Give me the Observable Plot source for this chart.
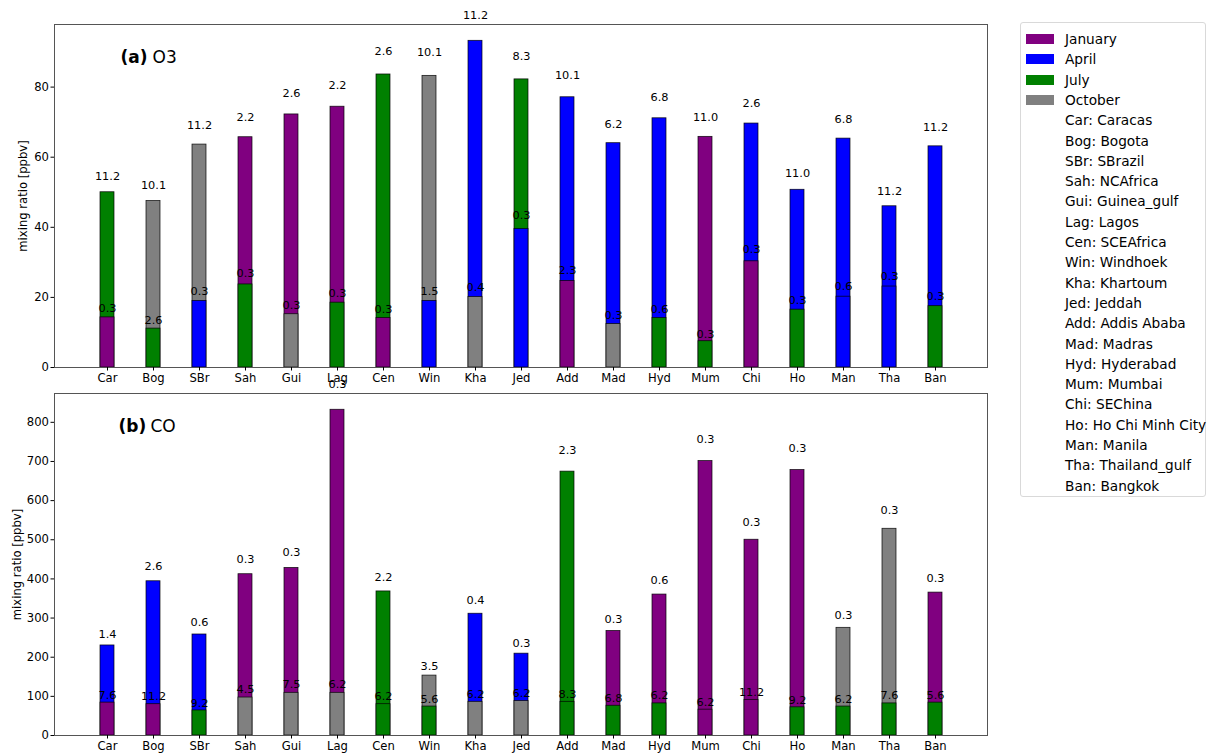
<!DOCTYPE html>
<html>
<head>
<meta charset="utf-8">
<script src="https://cdn.jsdelivr.net/npm/d3@7"></script>
<script src="https://cdn.jsdelivr.net/npm/@observablehq/plot@0.6"></script>
<style>
  html, body { margin: 0; padding: 0; background: #fff; }
  #wrap { position: relative; width: 1208px; height: 753px; font-family: "DejaVu Sans", sans-serif; }
  #wrap svg { position: absolute; left: 0; overflow: visible; }
  #legend { position: absolute; left: 1020px; top: 22px; width: 186px; height: 475px; border: 1px solid #d9d9d9; border-radius: 3px; box-sizing: border-box; font-size: 13.7px; color: #000; }
  .row { position: absolute; left: 0; height: 20px; display: flex; align-items: center; white-space: nowrap; }
  .sw { position: absolute; left: 5px; width: 28px; height: 10px; }
  .lab { position: absolute; left: 44px; }
</style>
</head>
<body>
<div id="wrap"></div>
<script>
const sites = ["Car","Bog","SBr","Sah","Gui","Lag","Cen","Win","Kha","Jed","Add","Mad","Hyd","Mum","Chi","Ho","Man","Tha","Ban"];
const siteNames = ["Caracas","Bogota","SBrazil","NCAfrica","Guinea_gulf","Lagos","SCEAfrica","Windhoek","Khartoum","Jeddah","Addis Ababa","Madras","Hyderabad","Mumbai","SEChina","Ho Chi Minh City","Manila","Thailand_gulf","Bangkok"];
const months = ["January","April","July","October"];
const monthColors = ["#800080","#0000ff","#008000","#808080"];

// (a) O3
const o3Max = [50.0,47.5,63.6,65.7,72.2,74.4,83.6,83.2,93.2,82.2,77.1,64.0,71.1,65.8,69.6,50.7,65.3,46.0,63.1];
const o3MaxMonth = ["July","October","October","January","January","January","July","October","April","July","April","April","April","January","April","April","April","April","April"];
const o3MaxAlt = ["11.2","10.1","11.2","2.2","2.6","2.2","2.6","10.1","11.2","8.3","10.1","6.2","6.8","11.0","2.6","11.0","6.8","11.2","11.2"];
const o3Min = [14.3,11.1,19.0,23.7,15.2,18.5,14.1,19.0,20.1,39.5,24.7,12.4,14.1,7.5,30.3,16.5,20.2,23.1,17.5];
const o3MinMonth = ["January","July","April","July","October","July","January","April","October","April","January","October","July","July","January","July","April","April","July"];
const o3MinAlt = ["0.3","2.6","0.3","0.3","0.3","0.3","0.3","1.5","0.4","0.3","2.3","0.3","0.6","0.3","0.3","0.3","0.6","0.3","0.3"];
const o3Ticks = [0,20,40,60,80];

// (b) CO
const coMax = [230,394,258,412,428,832,368,153,311,209,674,267,360,701,500,678,275,528,365];
const coMaxMonth = ["April","April","April","January","January","January","July","October","April","April","July","January","January","January","January","January","October","October","January"];
const coMaxAlt = ["1.4","2.6","0.6","0.3","0.3","0.3","2.2","3.5","0.4","0.3","2.3","0.3","0.6","0.3","0.3","0.3","0.3","0.3","0.3"];
const coMin = [84,80,64,97,109,109,80,74,86,88,86,76,82,66,91,72,74,82,84];
const coMinMonth = ["January","January","July","October","October","October","July","July","October","October","July","July","July","January","January","July","July","July","July"];
const coMinAlt = ["7.6","11.2","9.2","4.5","7.5","6.2","6.2","5.6","6.2","6.2","8.3","6.8","6.2","6.2","11.2","9.2","6.2","7.6","5.6"];
const coTicks = [0,100,200,300,400,500,600,700,800];

const yLabel = "mixing ratio [ppbv]";

function panel(p) {
  const rows = sites.map((s, i) => ({site: s, max: p.max[i], maxMonth: p.maxMonth[i], maxAlt: p.maxAlt[i],
    min: p.min[i], minMonth: p.minMonth[i], minAlt: p.minAlt[i]}));
  const top = d3.max(p.max) * 1.05;
  return Plot.plot({
    width: 1208, height: p.height,
    marginLeft: 54, marginRight: 221, marginTop: p.marginTop, marginBottom: p.marginBottom,
    style: {fontFamily: "DejaVu Sans", fontSize: "11.6px", color: "#000", background: "transparent", overflow: "visible"},
    x: {type: "band", domain: sites, paddingInner: 0.7, paddingOuter: 0.915, label: null},
    y: {domain: [0, top], label: null},
    color: {domain: months, range: monthColors},
    marks: [
      Plot.barY(rows, {x: "site", y: "max", fill: "maxMonth", stroke: "#000", strokeWidth: 0.8, strokeOpacity: 0.85}),
      Plot.barY(rows, {x: "site", y: "min", fill: "minMonth", stroke: "#000", strokeWidth: 0.8, strokeOpacity: 0.85}),
      Plot.text(rows, {x: "site", y: d => d.max * 1.06, text: "maxAlt", lineAnchor: "bottom", dy: -2, fill: "#000", fontSize: 11.3}),
      Plot.text(rows, {x: "site", y: d => d.min * 1.06, text: "minAlt", lineAnchor: "bottom", dy: -2, fill: "#000", fontSize: 11.3}),
      Plot.frame({stroke: "#555", strokeWidth: 1}),
      Plot.axisX({tickSize: 3.5, tickPadding: 3, label: null, fontSize: 11.6}),
      Plot.axisY({ticks: p.ticks, tickSize: 3.5, tickPadding: 2, label: null, fontSize: 11.6}),
      Plot.text([yLabel], {frameAnchor: "left", dx: p.ylabDx, rotate: -90, textAnchor: "middle", lineAnchor: "middle", fontSize: 11.6}),
      Plot.text([p.tag], {frameAnchor: "top-left", dx: p.tagDx, dy: 33, fontWeight: "bold", fontSize: 17, textAnchor: "start", lineAnchor: "middle"}),
      Plot.text([p.title], {frameAnchor: "top-left", dx: p.titleDx, dy: 33, fontSize: 17, textAnchor: "start", lineAnchor: "middle"})
    ]
  });
}

const wrap = document.getElementById("wrap");
const a = panel({max: o3Max, maxMonth: o3MaxMonth, maxAlt: o3MaxAlt, min: o3Min, minMonth: o3MinMonth, minAlt: o3MinAlt,
  ticks: o3Ticks, height: 390, marginTop: 24, marginBottom: 23, ylabDx: -31, tag: "(a)", title: "O3", tagDx: 66, titleDx: 98});
a.style.top = "0px";
wrap.appendChild(a);
const b = panel({max: coMax, maxMonth: coMaxMonth, maxAlt: coMaxAlt, min: coMin, minMonth: coMinMonth, minAlt: coMinAlt,
  ticks: coTicks, height: 381, marginTop: 21, marginBottom: 18, ylabDx: -37, tag: "(b)", title: "CO", tagDx: 64, titleDx: 96});
b.style.top = "372px";
wrap.appendChild(b);

// legend
const legend = document.createElement("div");
legend.id = "legend";
const entries = months.map((m, i) => ({label: m, color: monthColors[i]}))
  .concat(sites.map((s, i) => ({label: s + ": " + siteNames[i], color: null})));
entries.forEach((e, i) => {
  const row = document.createElement("div");
  row.className = "row";
  row.style.top = (6 + i * 20.3) + "px";
  if (e.color) {
    const sw = document.createElement("div");
    sw.className = "sw";
    sw.style.background = e.color;
    row.appendChild(sw);
  }
  const lab = document.createElement("div");
  lab.className = "lab";
  lab.textContent = e.label;
  row.appendChild(lab);
  legend.appendChild(row);
});
wrap.appendChild(legend);
</script>
</body>
</html>
